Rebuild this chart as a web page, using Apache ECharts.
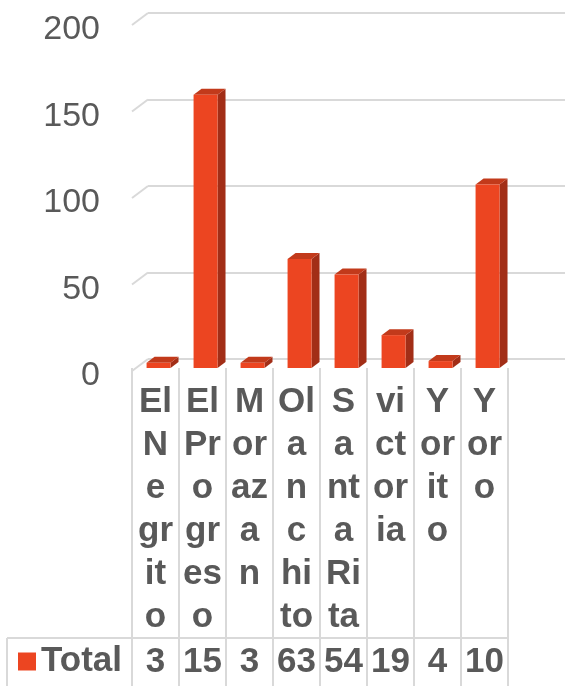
<!DOCTYPE html>
<html>
<head>
<meta charset="utf-8">
<script src="https://cdn.jsdelivr.net/npm/echarts@6/dist/echarts.min.js"></script>
<style>
html,body{margin:0;padding:0;background:#fff;}
#chart{width:565px;height:686px;}
</style>
</head>
<body>
<div id="chart"></div>
<script>
const categories = ['El Negrito', 'El Progreso', 'Morazan', 'Olanchito', 'Santa Rita', 'victoria', 'Yorito', 'Yoro'];
const totals = [3, 158, 3, 63, 54, 19, 4, 106];
const yTicks = [0, 50, 100, 150, 200];
const seriesName = 'Total';

const FONT = "'Liberation Sans', Arial, sans-serif";
const TXT = '#595959';
const LINE = '#D9D9D9';
const FRONT = '#EC4521';
const TOP = '#C23A1B';
const SIDE = '#A22E17';

const chart = echarts.init(document.getElementById('chart'), null, {renderer: 'canvas'});

const option = {
  animation: false,
  backgroundColor: '#ffffff',
  textStyle: {fontFamily: FONT},
  grid: [
    {left: 148, right: 0, top: 13, bottom: 327},
    {left: 132, right: 57, top: 22, bottom: 318}
  ],
  xAxis: [
    {gridIndex: 0, type: 'category', data: categories, show: false},
    {
      gridIndex: 1, type: 'category', data: categories,
      axisLine: {show: false},
      axisTick: {show: true, interval: 0, length: 318, lineStyle: {color: LINE, width: 2}},
      axisLabel: {
        interval: 0, fontSize: 35, fontWeight: 'bold', color: TXT, fontFamily: FONT,
        width: 39.8, overflow: 'breakAll', lineHeight: 43, margin: 13, align: 'center',
        formatter: function (v) { return v.replace(/ /g, '\n'); }
      }
    },
    {
      gridIndex: 1, type: 'category', data: totals.map(String), position: 'bottom', offset: 270,
      axisLine: {show: true, lineStyle: {color: LINE, width: 2}},
      axisTick: {show: false},
      axisLabel: {
        interval: 0, fontSize: 35, fontWeight: 'bold', color: TXT, fontFamily: FONT,
        width: 45, overflow: 'truncate', ellipsis: '', lineHeight: 40, margin: 4
      }
    }
  ],
  yAxis: [
    {
      gridIndex: 0, type: 'value', min: 0, max: 200, interval: 50,
      axisLine: {show: false}, axisTick: {show: false},
      splitLine: {show: true, lineStyle: {color: LINE, width: 2}},
      axisLabel: {fontSize: 34, color: TXT, fontFamily: FONT, margin: 48,
                  verticalAlign: 'top', lineHeight: 34}
    },
    {gridIndex: 1, type: 'value', min: 0, max: 200, show: false, splitLine: {show: false}}
  ],
  legend: {
    data: [seriesName], left: 18, top: 644, padding: 0, icon: 'rect',
    itemWidth: 18, itemHeight: 18, itemGap: 10,
    textStyle: {fontSize: 35, fontWeight: 'bold', color: TXT, fontFamily: FONT}
  },
  graphic: [
    {type: 'line', shape: {x1: 7, y1: 638, x2: 132, y2: 638}, style: {stroke: LINE, lineWidth: 2}},
    {type: 'line', shape: {x1: 7, y1: 638, x2: 7, y2: 686}, style: {stroke: LINE, lineWidth: 2}}
  ],
  series: [
    {
      type: 'custom', name: 'grid-stubs', xAxisIndex: 0, yAxisIndex: 0, silent: true,
      data: yTicks.map(function (v) { return [0, v]; }),
      renderItem: function (params, api) {
        const y = api.coord([0, api.value(1)])[1];
        const x0 = params.coordSys.x;
        return {type: 'line', shape: {x1: x0 - 16, y1: y + 12, x2: x0, y2: y},
                style: {stroke: LINE, lineWidth: 2}};
      }
    },
    {
      type: 'custom', name: seriesName, xAxisIndex: 1, yAxisIndex: 1,
      itemStyle: {color: FRONT},
      data: totals.map((v, i) => [i, v]),
      renderItem: function (params, api) {
        const i = api.value(0), v = api.value(1);
        const base = api.coord([i, 0]);
        const topP = api.coord([i, v]);
        const bw = api.size([1, 0])[0];
        const l = base[0] - bw * 0.19;
        const r = base[0] + bw * 0.32;
        const yb = base[1], yt = topP[1];
        const dx = bw * 0.17, dy = -6;
        return {
          type: 'group',
          children: [
            {type: 'polygon', shape: {points: [[r, yt], [r + dx, yt + dy], [r + dx, yb + dy], [r, yb]]}, style: {fill: SIDE}},
            {type: 'polygon', shape: {points: [[l, yt], [l + dx, yt + dy], [r + dx, yt + dy], [r, yt]]}, style: {fill: TOP}},
            {type: 'rect', shape: {x: l, y: yt, width: r - l, height: yb - yt}, style: {fill: FRONT}}
          ]
        };
      }
    }
  ]
};
chart.setOption(option);
</script>
</body>
</html>
